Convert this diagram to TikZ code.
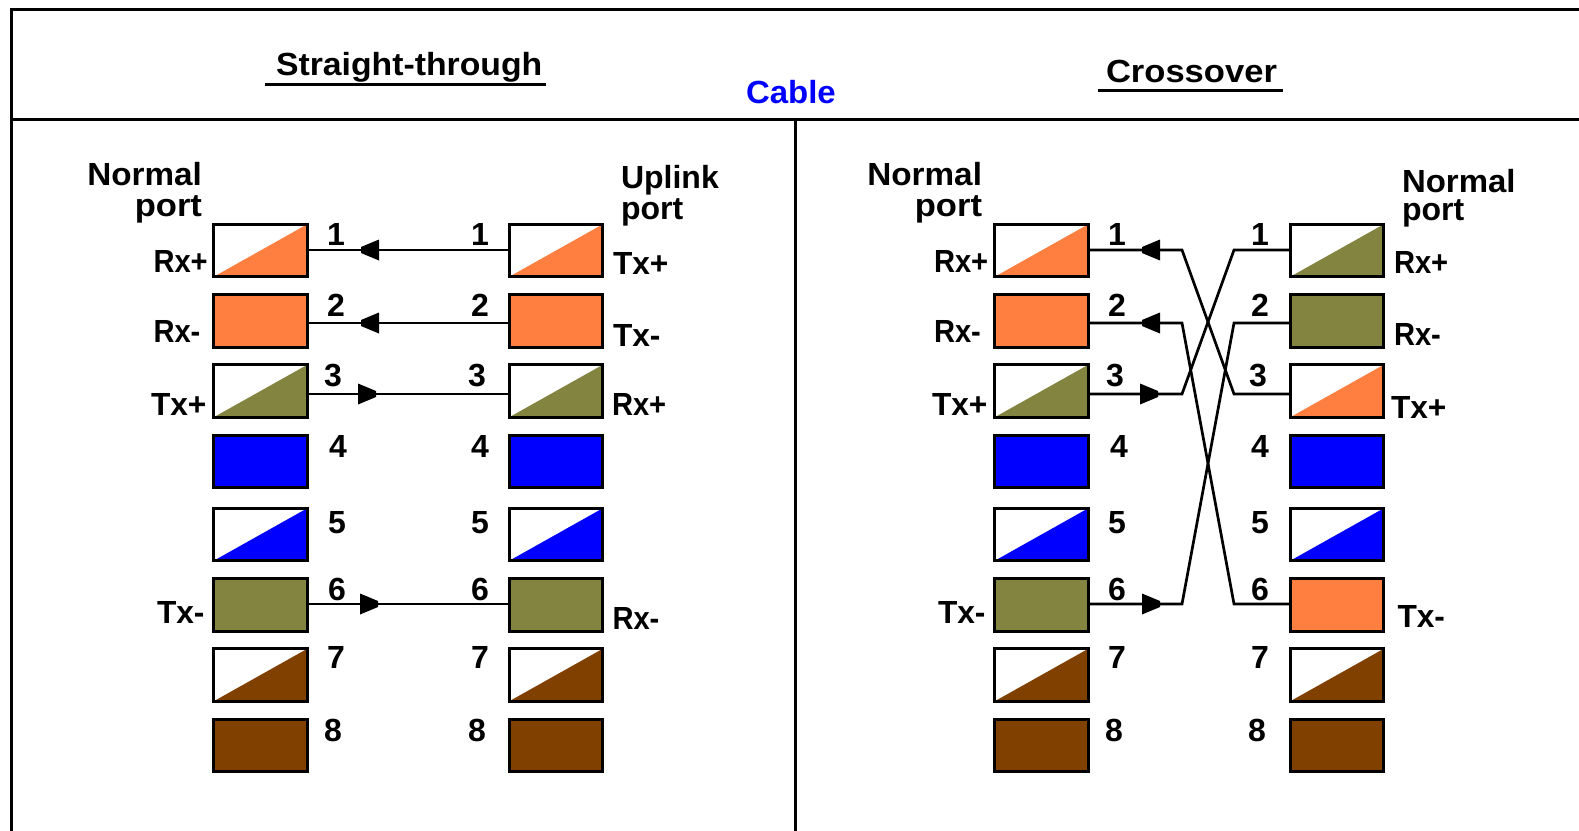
\documentclass[tikz,border=0pt]{standalone}
\usepackage{graphicx}
\usepackage{fontspec}
\setmainfont{Liberation Sans}
\definecolor{portorange}{HTML}{FF7F40}
\definecolor{portolive}{HTML}{848441}
\definecolor{portblue}{HTML}{0000FF}
\definecolor{portbrown}{HTML}{804000}
\newcommand\stretchx[2]{\scalebox{#1}[1]{#2}}
\newcommand\rxsig[1]{\scalebox{.91}[1]{#1}}
\newcommand\txsig[1]{\scalebox{.99}[1]{#1}}
\newcommand\headleft[2]{\fill (#1,#2-10.5) -- (#1,#2+10.5) -- (#1-18,#2+3) -- (#1-18,#2-3) -- cycle;}
\newcommand\headright[2]{\fill (#1,#2-10.5) -- (#1,#2+10.5) -- (#1+18,#2+3) -- (#1+18,#2-3) -- cycle;}
\tikzset{
  portbox/.style={draw=black,line width=3pt,minimum width=93.4pt,minimum height=52.4pt,inner sep=0pt,outer sep=0pt,fill=#1},
  halfbox/.style={draw=black,line width=3pt,minimum width=93.4pt,minimum height=52.4pt,inner sep=0pt,outer sep=0pt,fill=white,
    path picture={\fill[#1] (path picture bounding box.south west) -- (path picture bounding box.south east) -- (path picture bounding box.north east) -- cycle;}},
  frameline/.style={line width=3pt,line cap=rect},
  ruleline/.style={line width=3pt},
  wire/.style={line width=2.7pt,line join=miter},
  txt/.style={inner sep=0pt,outer sep=0pt,font=\fontsize{32}{28}\selectfont\bfseries,anchor=base west},
  txtr/.style={txt,anchor=base east},
  num/.style={txt,anchor=base},
}
\begin{document}
\begin{tikzpicture}[x=1pt,y=-1pt]
\useasboundingbox (0,0) rectangle (1579,830);
\fill[white] (0,0) rectangle (1579,830);
% frame
\draw[frameline] (11,830) -- (11,9) -- (1579,9);
\draw[frameline] (11,119) -- (1579,119);
\draw[frameline] (795.5,119) -- (795.5,830);
% headings
\node[txt] (tstraight) at (276,75) {\stretchx{1.055}{Straight-through}};
\draw[ruleline] (265,84) -- (546,84);
\node[txt,text=portblue] (tcable) at (746,103) {\stretchx{1.03}{Cable}};
\node[txt] (tcross) at (1106,82) {\stretchx{1.08}{Crossover}};
\draw[ruleline] (1098,90) -- (1282.5,90);
% port captions
\node[txtr] (n1a) at (202,185) {\stretchx{1.04}{Normal}};
\node[txtr] (n1b) at (202,216) {\stretchx{1.08}{port}};
\node[txt] (n2a) at (621,188) {Uplink};
\node[txt] (n2b) at (621,219) {port};
\node[txtr] (n3a) at (982,185) {\stretchx{1.04}{Normal}};
\node[txtr] (n3b) at (982,216) {\stretchx{1.08}{port}};
\node[txt,align=left] (n4) at (1402,220) {\stretchx{1.03}{Normal}\\port};
% boxes: straight-through left column
\node[halfbox=portorange] (a1) at (260.5,250.5) {};
\node[portbox=portorange] (a2) at (260.5,321) {};
\node[halfbox=portolive] (a3) at (260.5,391) {};
\node[portbox=portblue] (a4) at (260.5,461.5) {};
\node[halfbox=portblue] (a5) at (260.5,534.5) {};
\node[portbox=portolive] (a6) at (260.5,605) {};
\node[halfbox=portbrown] (a7) at (260.5,675) {};
\node[portbox=portbrown] (a8) at (260.5,745.5) {};
% straight-through right column
\node[halfbox=portorange] (b1) at (556,250.5) {};
\node[portbox=portorange] (b2) at (556,321) {};
\node[halfbox=portolive] (b3) at (556,391) {};
\node[portbox=portblue] (b4) at (556,461.5) {};
\node[halfbox=portblue] (b5) at (556,534.5) {};
\node[portbox=portolive] (b6) at (556,605) {};
\node[halfbox=portbrown] (b7) at (556,675) {};
\node[portbox=portbrown] (b8) at (556,745.5) {};
% crossover left column
\node[halfbox=portorange] (c1) at (1041.5,250.5) {};
\node[portbox=portorange] (c2) at (1041.5,321) {};
\node[halfbox=portolive] (c3) at (1041.5,391) {};
\node[portbox=portblue] (c4) at (1041.5,461.5) {};
\node[halfbox=portblue] (c5) at (1041.5,534.5) {};
\node[portbox=portolive] (c6) at (1041.5,605) {};
\node[halfbox=portbrown] (c7) at (1041.5,675) {};
\node[portbox=portbrown] (c8) at (1041.5,745.5) {};
% crossover right column
\node[halfbox=portolive] (d1) at (1337,250.5) {};
\node[portbox=portolive] (d2) at (1337,321) {};
\node[halfbox=portorange] (d3) at (1337,391) {};
\node[portbox=portblue] (d4) at (1337,461.5) {};
\node[halfbox=portblue] (d5) at (1337,534.5) {};
\node[portbox=portorange] (d6) at (1337,605) {};
\node[halfbox=portbrown] (d7) at (1337,675) {};
\node[portbox=portbrown] (d8) at (1337,745.5) {};
% bends
\coordinate (kl1) at (1182,250);
\coordinate (kl2) at (1182,323);
\coordinate (kl3) at (1182,394);
\coordinate (kl6) at (1182,604);
\coordinate (kr1) at (1234,250);
\coordinate (kr2) at (1234,323);
\coordinate (kr3) at (1234,394);
\coordinate (kr6) at (1234,604);
% straight wires
\draw[wire] ([yshift=.5pt]a1.east) -- ([yshift=.5pt]b1.west);
\draw[wire] ([yshift=-2pt]a2.east) -- ([yshift=-2pt]b2.west);
\draw[wire] ([yshift=-3pt]a3.east) -- ([yshift=-3pt]b3.west);
\draw[wire] ([yshift=1pt]a6.east) -- ([yshift=1pt]b6.west);
\headleft{379}{250}
\headleft{379}{323}
\headright{358}{394}
\headright{360}{604}
% crossover wires
\draw[wire] ([yshift=.5pt]c1.east) -- (kl1) -- (kr3) -- ([yshift=-3pt]d3.west);
\draw[wire] ([yshift=-2pt]c2.east) -- (kl2) -- (kr6) -- ([yshift=1pt]d6.west);
\draw[wire] ([yshift=-3pt]c3.east) -- (kl3) -- (kr1) -- ([yshift=.5pt]d1.west);
\draw[wire] ([yshift=1pt]c6.east) -- (kl6) -- (kr2) -- ([yshift=-2pt]d2.west);
\headleft{1160}{250}
\headleft{1160}{323}
\headright{1140}{394}
\headright{1142}{604}
% signal labels
\node[txt] at (153.5,272) {\rxsig{Rx+}};
\node[txt] at (153.5,342) {\rxsig{Rx-}};
\node[txt] at (151,415) {\txsig{Tx+}};
\node[txt] at (157,623) {\txsig{Tx-}};
\node[txt] at (613,274) {\txsig{Tx+}};
\node[txt] at (613,346) {\txsig{Tx-}};
\node[txt] at (612,415) {\rxsig{Rx+}};
\node[txt] at (612.5,629) {\rxsig{Rx-}};
\node[txt] at (934,272) {\rxsig{Rx+}};
\node[txt] at (934,342) {\rxsig{Rx-}};
\node[txt] at (932,415) {\txsig{Tx+}};
\node[txt] at (938,623) {\txsig{Tx-}};
\node[txt] at (1394,273) {\rxsig{Rx+}};
\node[txt] at (1394,345) {\rxsig{Rx-}};
\node[txt] at (1391,418) {\txsig{Tx+}};
\node[txt] at (1397.5,627) {\txsig{Tx-}};
% pin numbers
\foreach \n/\y/\xa/\xb/\xc/\xd in {1/245/336/480/1117/1260,2/316/336/480/1117/1260,3/386/333/477/1115/1258,4/457/338/480/1119/1260,5/533/337/480/1117/1260,6/600/337/480/1117/1260,7/668/336/480/1117/1260,8/741/333/477/1114/1257}{
  \node[num] at (\xa,\y) {\n};
  \node[num] at (\xb,\y) {\n};
  \node[num] at (\xc,\y) {\n};
  \node[num] at (\xd,\y) {\n};
}
\end{tikzpicture}
\end{document}
